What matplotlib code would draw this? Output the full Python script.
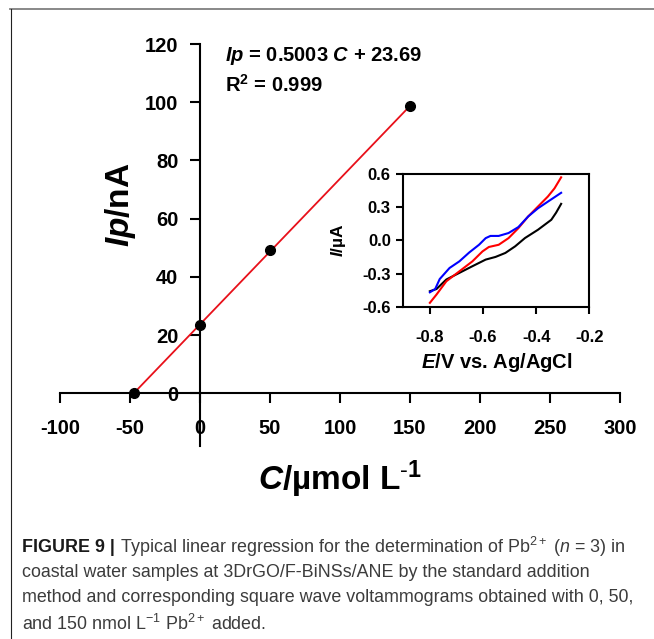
import numpy as np
import matplotlib
matplotlib.use("Agg")
import matplotlib.pyplot as plt
from matplotlib.lines import Line2D

plt.rcParams['font.family'] = ['Liberation Sans', 'DejaVu Sans']
plt.rcParams['axes.unicode_minus'] = False
plt.rcParams['mathtext.fontset'] = 'custom'
plt.rcParams['mathtext.rm'] = 'Liberation Sans'
plt.rcParams['mathtext.it'] = 'Liberation Sans:italic'
plt.rcParams['mathtext.bf'] = 'Liberation Sans:bold'
plt.rcParams['mathtext.bfit'] = 'Liberation Sans:italic:bold'

# standard addition data
conc = [-47.35, 0, 50, 150]
peak_current = [0, 23.5, 49.3, 98.7]
slope = 0.5003
intercept = 23.69
fit_x = np.array([-47.35, 150])

x_ticks = [-100, -50, 0, 50, 100, 150, 200, 250, 300]
y_ticks = [0, 20, 40, 60, 80, 100, 120]

# inset voltammograms (0, 50, 150 nmol/L)
e_black = [-0.8, -0.775, -0.738, -0.689, -0.64, -0.59, -0.553, -0.516, -0.479,
           -0.442, -0.393, -0.343, -0.325, -0.306]
i_black = [-0.46, -0.44, -0.354, -0.294, -0.234, -0.174, -0.15, -0.114, -0.054,
           0.021, 0.096, 0.186, 0.25, 0.33]
e_red = [-0.8, -0.775, -0.738, -0.689, -0.64, -0.602, -0.578, -0.541, -0.504,
         -0.467, -0.43, -0.393, -0.356, -0.331, -0.306]
i_red = [-0.565, -0.49, -0.37, -0.28, -0.19, -0.10, -0.06, -0.04, 0.02,
         0.11, 0.216, 0.306, 0.396, 0.47, 0.57]
e_blue = [-0.8, -0.78, -0.763, -0.726, -0.689, -0.652, -0.615, -0.59, -0.572,
          -0.541, -0.504, -0.467, -0.43, -0.393, -0.356, -0.306]
i_blue = [-0.47, -0.44, -0.35, -0.25, -0.19, -0.11, -0.04, 0.02, 0.04,
          0.04, 0.066, 0.12, 0.216, 0.29, 0.35, 0.43]

inset_xticks = [-0.8, -0.6, -0.4, -0.2]
inset_yticks = [-0.6, -0.3, 0.0, 0.3, 0.6]

caption_lines = [
    r"Typical linear regression for the determination of Pb$^{\mathrm{2+}}$ ($n$ = 3) in",
    "coastal water samples at 3DrGO/F-BiNSs/ANE by the standard addition",
    "method and corresponding square wave voltammograms obtained with 0, 50,",
    r"and 150 nmol L$^{\mathrm{-1}}$ Pb$^{\mathrm{2+}}$ added.",
]

W, H = 654, 639
fig = plt.figure(figsize=(W / 100, H / 100), dpi=100)

def fx(px):
    return px / W

def fy(py):
    return 1 - py / H

ax = fig.add_axes([fx(60), fy(446), 560 / W, 402 / H])
ax.set_xlim(-100, 300)
ax.set_ylim(-18.1, 120)
for s in ['top', 'right']:
    ax.spines[s].set_visible(False)
ax.spines['left'].set_position(('data', 0))
ax.spines['bottom'].set_position(('data', 0))
for s in ['left', 'bottom']:
    ax.spines[s].set_linewidth(1.5)
ax.set_xticks(x_ticks)
ax.set_yticks(y_ticks)
ax.tick_params(axis='both', direction='out', length=7.5, width=1.5,
               labelsize=14.5)
ax.tick_params(axis='x', pad=11)
ax.tick_params(axis='y', pad=8)
for lab in ax.get_xticklabels() + ax.get_yticklabels():
    lab.set_fontweight('bold')

fit_y = slope * fit_x + intercept
ax.plot(fit_x, fit_y, color='#e8101a', lw=1.3, zorder=3)
ax.plot(conc, peak_current, 'o', color='black', ms=7, zorder=4)

ax.text(17.9, 115.9, r"$\mathbfit{Ip}$ = 0.5003 $\mathbfit{C}$ + 23.69",
        fontsize=14.5, fontweight='bold', va='center', ha='left')
ax.text(17.9, 105.9, r"R$^{\mathbf{2}}$ = 0.999",
        fontsize=14.5, fontweight='bold', va='center', ha='left')

fig.text(fx(120), fy(205), r"$\mathbfit{Ip}$/nA", rotation=90, fontsize=24,
         fontweight='bold', ha='center', va='center')
fig.text(fx(340), fy(490), r"$\mathbfit{C}$/µmol L$^{\mathbf{\text{-}1}}$",
         fontsize=24, fontweight='bold', ha='center', va='baseline')

# inset
ins = fig.add_axes([fx(403.3), fy(306.7), 186 / W, 132.7 / H])
ins.plot(e_black, i_black, color='black', lw=1.5)
ins.plot(e_red, i_red, color='#ff0000', lw=1.5)
ins.plot(e_blue, i_blue, color='#0000ff', lw=1.5)
ins.set_xlim(-0.9, -0.2)
ins.set_ylim(-0.6, 0.6)
ins.set_xticks(inset_xticks)
ins.set_yticks(inset_yticks)
ins.set_xticklabels([f"{v:.1f}" for v in inset_xticks])
ins.set_yticklabels([f"{v:.1f}" for v in inset_yticks])
for s in ins.spines.values():
    s.set_linewidth(1.5)
ins.tick_params(axis='both', direction='out', length=5, width=1.5,
                labelsize=12, pad=4)
ins.tick_params(axis='x', pad=12)
for lab in ins.get_xticklabels() + ins.get_yticklabels():
    lab.set_fontweight('bold')
ins.set_xlabel(r"$\mathbfit{E}$/V vs. Ag/AgCl", fontsize=14.5,
               fontweight='bold', labelpad=4)
ins.set_ylabel(r"$\mathbfit{I}$/µA", fontsize=12.5, fontweight='bold',
               labelpad=10)

# frame lines of the page
fig.add_artist(Line2D([fx(10), 1], [fy(8.5), fy(8.5)], color='#7f7f7f', lw=1.3))
fig.add_artist(Line2D([fx(10.7), fx(10.7)], [fy(8.5), 0], color='#222222', lw=0.8))

# caption
cap_x = fx(22)
cap_y = [547, 572.5, 598, 623.5]
cap_size = 12.9
head = fig.text(cap_x, fy(cap_y[0]), "FIGURE 9 |", fontsize=cap_size,
                fontweight='bold', color='#1a1a1a', va='center', ha='left')
fig.canvas.draw()
bb = head.get_window_extent()
fig.text((bb.x1 + 5) / W, fy(cap_y[0]), caption_lines[0], fontsize=cap_size,
         color='#3c3c3c', va='center', ha='left')
for yy, line in zip(cap_y[1:], caption_lines[1:]):
    fig.text(cap_x, fy(yy), line, fontsize=cap_size, color='#3c3c3c',
             va='center', ha='left')

fig.savefig('out.png', dpi=100)
